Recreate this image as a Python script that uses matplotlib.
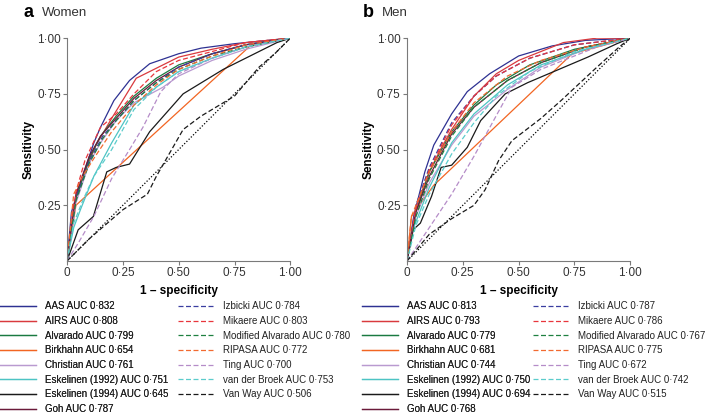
import matplotlib.pyplot as plt

plt.rcParams['font.family'] = ['Liberation Sans', 'DejaVu Sans']

# score names, colours and line styles (same for both panels)
names = ["AAS", "AIRS", "Alvarado", "Birkhahn", "Christian", "Eskelinen (1992)",
         "Eskelinen (1994)", "Goh", "Izbicki", "Mikaere", "Modified Alvarado",
         "RIPASA", "Ting", "van der Broek", "Van Way"]
colors = ["#2e3192", "#d93a3e", "#1a7a40", "#f26522", "#b99ad0", "#4dc4c4",
          "#1a1a1a", "#6b1a3a", "#3a3ea0", "#e8363c", "#1f8040", "#f26a30",
          "#b58cc8", "#5ccccc", "#1a1a1a"]
styles = ["-"] * 8 + [(0, (4, 2))] * 7

auc_women = ["0·832", "0·808", "0·799", "0·654", "0·761", "0·751", "0·645", "0·787",
             "0·784", "0·803", "0·780", "0·772", "0·700", "0·753", "0·506"]
auc_men = ["0·813", "0·793", "0·779", "0·681", "0·744", "0·750", "0·694", "0·768",
           "0·787", "0·786", "0·767", "0·775", "0·672", "0·742", "0·515"]

# ROC points (1 - specificity, sensitivity)
women_aas = [(0, 0), (0.02, 0.22), (0.07, 0.38), (0.12, 0.53), (0.15, 0.6), (0.21, 0.72), (0.28, 0.81), (0.37, 0.885), (0.5, 0.93), (0.6, 0.955), (0.75, 0.975), (1, 1)]
women_airs = [(0, 0), (0.03, 0.25), (0.08, 0.4), (0.13, 0.52), (0.2, 0.64), (0.31, 0.82), (0.5, 0.915), (0.65, 0.95), (0.8, 0.98), (1, 1)]
women_alvarado = [(0, 0), (0.04, 0.28), (0.1, 0.46), (0.15, 0.56), (0.22, 0.65), (0.3, 0.74), (0.4, 0.82), (0.5, 0.88), (0.65, 0.93), (0.8, 0.97), (1, 1)]
women_birkhahn = [(0, 0), (0.04, 0.25), (0.82, 0.965), (1, 1)]
women_christian = [(0, 0), (0.04, 0.26), (0.1, 0.44), (0.15, 0.53), (0.22, 0.63), (0.3, 0.71), (0.43, 0.78), (0.5, 0.83), (0.65, 0.9), (0.8, 0.95), (1, 1)]
women_esk92 = [(0, 0), (0.03, 0.15), (0.06, 0.23), (0.12, 0.38), (0.2, 0.53), (0.3, 0.7), (0.4, 0.78), (0.5, 0.85), (0.65, 0.91), (0.8, 0.96), (1, 1)]
women_esk94 = [(0, 0), (0.05, 0.14), (0.118, 0.2), (0.178, 0.4), (0.22, 0.42), (0.28, 0.435), (0.37, 0.58), (0.52, 0.75), (0.7, 0.86), (0.94, 0.98), (1, 1)]
women_goh = [(0, 0), (0.04, 0.3), (0.1, 0.47), (0.15, 0.56), (0.22, 0.64), (0.3, 0.73), (0.4, 0.81), (0.5, 0.87), (0.65, 0.93), (0.8, 0.97), (1, 1)]
women_izbicki = [(0, 0), (0.04, 0.28), (0.1, 0.45), (0.16, 0.56), (0.22, 0.63), (0.3, 0.72), (0.4, 0.8), (0.5, 0.87), (0.65, 0.93), (0.8, 0.97), (1, 1)]
women_mikaere = [(0, 0), (0.04, 0.31), (0.08, 0.45), (0.15, 0.6), (0.22, 0.66), (0.3, 0.75), (0.4, 0.85), (0.5, 0.9), (0.65, 0.94), (0.8, 0.98), (1, 1)]
women_modalv = [(0, 0), (0.04, 0.27), (0.1, 0.44), (0.16, 0.55), (0.22, 0.63), (0.3, 0.72), (0.4, 0.8), (0.5, 0.86), (0.65, 0.92), (0.8, 0.96), (1, 1)]
women_ripasa = [(0, 0), (0.03, 0.3), (0.07, 0.38), (0.12, 0.46), (0.2, 0.58), (0.3, 0.7), (0.4, 0.79), (0.5, 0.86), (0.65, 0.92), (0.8, 0.97), (1, 1)]
women_ting = [(0, 0), (0.05, 0.08), (0.12, 0.2), (0.2, 0.37), (0.28, 0.5), (0.34, 0.6), (0.42, 0.76), (0.5, 0.84), (0.65, 0.91), (0.8, 0.96), (1, 1)]
women_vdbroek = [(0, 0), (0.03, 0.17), (0.07, 0.27), (0.12, 0.38), (0.2, 0.5), (0.3, 0.68), (0.4, 0.78), (0.5, 0.85), (0.65, 0.91), (0.8, 0.96), (1, 1)]
women_vanway = [(0, 0), (0.1, 0.1), (0.25, 0.23), (0.36, 0.3), (0.4, 0.38), (0.52, 0.59), (0.6, 0.65), (0.75, 0.74), (0.86, 0.87), (0.93, 0.93), (1, 1)]

men_aas = [(0, 0), (0.03, 0.2), (0.08, 0.4), (0.12, 0.52), (0.2, 0.66), (0.27, 0.76), (0.37, 0.84), (0.5, 0.92), (0.65, 0.965), (0.8, 0.99), (1, 1)]
men_airs = [(0, 0), (0.04, 0.24), (0.1, 0.4), (0.15, 0.5), (0.2, 0.59), (0.3, 0.74), (0.4, 0.84), (0.5, 0.9), (0.7, 0.98), (0.85, 1.0), (1, 1)]
men_alvarado = [(0, 0), (0.04, 0.22), (0.1, 0.4), (0.2, 0.58), (0.3, 0.7), (0.4, 0.79), (0.55, 0.88), (0.75, 0.95), (1, 1)]
men_birkhahn = [(0, 0), (0.02, 0.2), (0.12, 0.34), (0.74, 0.93), (1, 1)]
men_christian = [(0, 0), (0.04, 0.2), (0.1, 0.35), (0.2, 0.52), (0.3, 0.65), (0.45, 0.77), (0.6, 0.87), (0.8, 0.95), (1, 1)]
men_esk92 = [(0, 0), (0.03, 0.15), (0.1, 0.33), (0.2, 0.53), (0.3, 0.66), (0.45, 0.79), (0.6, 0.88), (0.8, 0.95), (1, 1)]
men_esk94 = [(0, 0), (0.027, 0.14), (0.06, 0.17), (0.11, 0.29), (0.153, 0.42), (0.2, 0.43), (0.27, 0.51), (0.33, 0.63), (0.44, 0.75), (0.54, 0.8), (0.81, 0.915), (0.94, 0.975), (1, 1)]
men_goh = [(0, 0), (0.04, 0.22), (0.1, 0.38), (0.2, 0.57), (0.3, 0.69), (0.45, 0.81), (0.6, 0.89), (0.8, 0.96), (1, 1)]
men_izbicki = [(0, 0), (0.04, 0.25), (0.1, 0.42), (0.2, 0.62), (0.3, 0.74), (0.4, 0.83), (0.55, 0.91), (0.75, 0.97), (1, 1)]
men_mikaere = [(0, 0), (0.04, 0.24), (0.1, 0.41), (0.2, 0.61), (0.3, 0.74), (0.4, 0.83), (0.55, 0.91), (0.75, 0.97), (1, 1)]
men_modalv = [(0, 0), (0.04, 0.2), (0.1, 0.37), (0.2, 0.56), (0.3, 0.69), (0.45, 0.81), (0.6, 0.89), (0.8, 0.96), (1, 1)]
men_ripasa = [(0, 0), (0.02, 0.2), (0.06, 0.3), (0.1, 0.4), (0.2, 0.58), (0.3, 0.71), (0.45, 0.83), (0.6, 0.9), (0.8, 0.96), (1, 1)]
men_ting = [(0, 0), (0.1, 0.15), (0.2, 0.3), (0.3, 0.47), (0.47, 0.78), (0.6, 0.86), (0.85, 0.96), (1, 1)]
men_vdbroek = [(0, 0), (0.04, 0.16), (0.1, 0.3), (0.2, 0.48), (0.3, 0.62), (0.4, 0.74), (0.55, 0.85), (0.75, 0.94), (1, 1)]
men_vanway = [(0, 0), (0.1, 0.12), (0.2, 0.19), (0.3, 0.25), (0.35, 0.32), (0.41, 0.45), (0.47, 0.54), (0.6, 0.64), (0.69, 0.72), (0.84, 0.86), (0.95, 0.96), (1, 1)]

women_curves = [women_aas, women_airs, women_alvarado, women_birkhahn, women_christian,
                women_esk92, women_esk94, women_goh, women_izbicki, women_mikaere,
                women_modalv, women_ripasa, women_ting, women_vdbroek, women_vanway]
men_curves = [men_aas, men_airs, men_alvarado, men_birkhahn, men_christian,
              men_esk92, men_esk94, men_goh, men_izbicki, men_mikaere,
              men_modalv, men_ripasa, men_ting, men_vdbroek, men_vanway]

ticks = [0, 0.25, 0.5, 0.75, 1.0]
xtick_labels = ["0", "0·25", "0·50", "0·75", "1·00"]
ytick_labels = ["0·25", "0·50", "0·75", "1·00"]

grey = "#7a7a7a"
fig = plt.figure(figsize=(7.09, 4.19), dpi=100)

leg_kw = dict(loc="upper left", frameon=False, fontsize=7, handlelength=3.7,
              handletextpad=0.9, labelspacing=0.48, borderpad=0, borderaxespad=0,
              labelcolor="#222222")


def draw_panel(left, curves, aucs, letter, title, leg_x1, leg_x2):
    ax = fig.add_axes([left, 0.377, 0.315, 0.532])
    ax.plot([0, 1], [0, 1], color="black", ls=(0, (1, 1.5)), lw=0.9)
    for pts, name, auc, c, s in zip(curves, names, aucs, colors, styles):
        xs = [p[0] for p in pts]
        ys = [p[1] for p in pts]
        ax.plot(xs, ys, color=c, ls=s, lw=0.9, label=f"{name} AUC {auc}")
    ax.set_xlim(0, 1)
    ax.set_ylim(0, 1)
    ax.spines[["top", "right"]].set_visible(False)
    ax.spines[["left", "bottom"]].set_color(grey)
    ax.set_xticks(ticks)
    ax.set_xticklabels(xtick_labels)
    ax.set_yticks(ticks[1:])
    ax.set_yticklabels(ytick_labels)
    ax.tick_params(direction="out", length=3, pad=1.5, color=grey, labelsize=8.5,
                   labelcolor="#333333")
    ax.set_xlabel("1 – specificity", fontweight="bold", fontsize=8.5, labelpad=4)
    ax.set_ylabel("Sensitivity", fontweight="bold", fontsize=8.5, labelpad=2)
    fig.text(left - 0.062, 0.970, letter, fontweight="bold", fontsize=13, va="center")
    fig.text(left - 0.036, 0.970, title, fontsize=9.5, va="center", color="#333333")
    handles, labels = ax.get_legend_handles_labels()
    leg1 = fig.legend(handles[:8], labels[:8], bbox_to_anchor=(leg_x1, 0.281), **leg_kw)
    fig.legend(handles[8:], labels[8:], bbox_to_anchor=(leg_x2, 0.281), **leg_kw)
    fig.add_artist(leg1)
    return ax


draw_panel(0.0945, women_curves, auc_women, "a", "Women", 0.0, 0.251)
draw_panel(0.574, men_curves, auc_men, "b", "Men", 0.5106, 0.752)

fig.savefig("out.png", dpi=100)
